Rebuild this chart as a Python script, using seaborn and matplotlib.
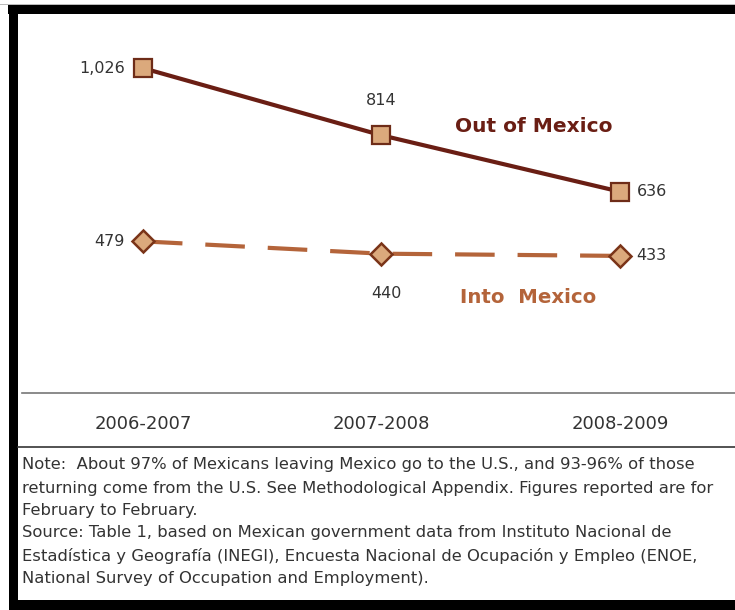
import matplotlib
matplotlib.use("Agg")
import matplotlib.pyplot as plt
from matplotlib.patches import Rectangle
from matplotlib.lines import Line2D
import seaborn as sns
import pandas as pd

# ---- data ----
periods = ["2006-2007", "2007-2008", "2008-2009"]
out_of_mexico = [1026, 814, 636]
into_mexico = [479, 440, 433]
out_labels = ["1,026", "814", "636"]
into_labels = ["479", "440", "433"]
series_names = ["Out of Mexico", "Into  Mexico"]
note_lines = [
    "Note:  About 97% of Mexicans leaving Mexico go to the U.S., and 93-96% of those",
    "returning come from the U.S. See Methodological Appendix. Figures reported are for",
    "February to February.",
    "Source: Table 1, based on Mexican government data from Instituto Nacional de",
    "Estadística y Geografía (INEGI), Encuesta Nacional de Ocupación y Empleo (ENOE,",
    "National Survey of Occupation and Employment).",
]

sns.set_theme(style="white")
plt.rcParams["font.family"] = ["DejaVu Sans"]

W, H = 735, 610
fig = plt.figure(figsize=(W / 100, H / 100), dpi=100)
fig.patch.set_facecolor("white")


def fx(x):
    return x / W


def fy(y):
    return 1 - y / H


# axes: left edge 22px, bottom at 393px, top at 14px
ax_left, ax_right, ax_top, ax_bot = 22, 735, 14, 393
ax = fig.add_axes([fx(ax_left), fy(ax_bot), fx(ax_right - ax_left), (ax_bot - ax_top) / H])
ax.set_facecolor("none")

df = pd.DataFrame({"x": range(len(periods)), "out": out_of_mexico, "into": into_mexico})

OUT_COL = "#6a1e14"
INTO_COL = "#b4643a"
FACE = "#dba97c"

sns.lineplot(data=df, x="x", y="out", ax=ax, color=OUT_COL, lw=3.0,
             marker="s", markersize=13, markerfacecolor=FACE,
             markeredgecolor="#6e2c18", markeredgewidth=1.6, zorder=3)
sns.lineplot(data=df, x="x", y="into", ax=ax, color=INTO_COL, lw=3.0,
             linestyle=(0, (9.5, 5.5)),
             marker="D", markersize=11, markerfacecolor=FACE,
             markeredgecolor="#7a3418", markeredgewidth=1.8, zorder=3)

ax.set_xlim(-0.507, 2.483)
ax.set_ylim(0, 1197)
for s in ["top", "right", "left"]:
    ax.spines[s].set_visible(False)
ax.spines["bottom"].set_color("#777777")
ax.spines["bottom"].set_linewidth(1.2)
ax.set_yticks([])
ax.set_xticks(range(len(periods)))
ax.set_xticklabels(periods, fontsize=13, color="#333333")
ax.tick_params(axis="x", which="major", length=0, pad=16)
ax.set_xticks([-0.5, 0.5, 1.5], minor=True)
ax.tick_params(axis="x", which="minor", length=5, width=1, color="#777777", direction="inout")
ax.set_xlabel("")
ax.set_ylabel("")
ax.grid(False)

lab_kw = dict(fontsize=11.5, color="#333333", va="center")
ax.annotate(out_labels[0], (0, out_of_mexico[0]), xytext=(-13, 0), textcoords="offset points", ha="right", **lab_kw)
ax.annotate(out_labels[1], (1, out_of_mexico[1]), xytext=(0, 25), textcoords="offset points", ha="center", **lab_kw)
ax.annotate(out_labels[2], (2, out_of_mexico[2]), xytext=(12, 0), textcoords="offset points", ha="left", **lab_kw)
ax.annotate(into_labels[0], (0, into_mexico[0]), xytext=(-13, 0), textcoords="offset points", ha="right", **lab_kw)
ax.annotate(into_labels[1], (1, into_mexico[1]), xytext=(4, -29), textcoords="offset points", ha="center", **lab_kw)
ax.annotate(into_labels[2], (2, into_mexico[2]), xytext=(12, 0), textcoords="offset points", ha="left", **lab_kw)

fig.text(fx(534), fy(126), series_names[0], fontsize=14.5, fontweight="bold", color=OUT_COL,
         ha="center", va="center")
fig.text(fx(528), fy(298), series_names[1], fontsize=14.2, fontweight="bold", color=INTO_COL,
         ha="center", va="center")

# separator line
fig.add_artist(Line2D([fx(18), fx(735)], [fy(447), fy(447)], color="#444444", lw=1.3))

# notes
ys = [465, 488, 510, 533, 556, 578]
for t, y in zip(note_lines, ys):
    fig.text(fx(22), fy(y), t, fontsize=11.8, color="#333333", ha="left", va="center")

# black frame (top, left, bottom)
fig.add_artist(Rectangle((fx(0), fy(5)), 1, 1 / H, color="#bbbbbb", lw=0))
fig.add_artist(Rectangle((fx(8), fy(14)), 1, 9 / H, color="black", lw=0))
fig.add_artist(Rectangle((fx(9), fy(610)), 9 / W, 596 / H, color="black", lw=0))
fig.add_artist(Rectangle((fx(9), fy(610)), 1, 10 / H, color="black", lw=0))

fig.savefig("out.png", dpi=100, facecolor="white")
